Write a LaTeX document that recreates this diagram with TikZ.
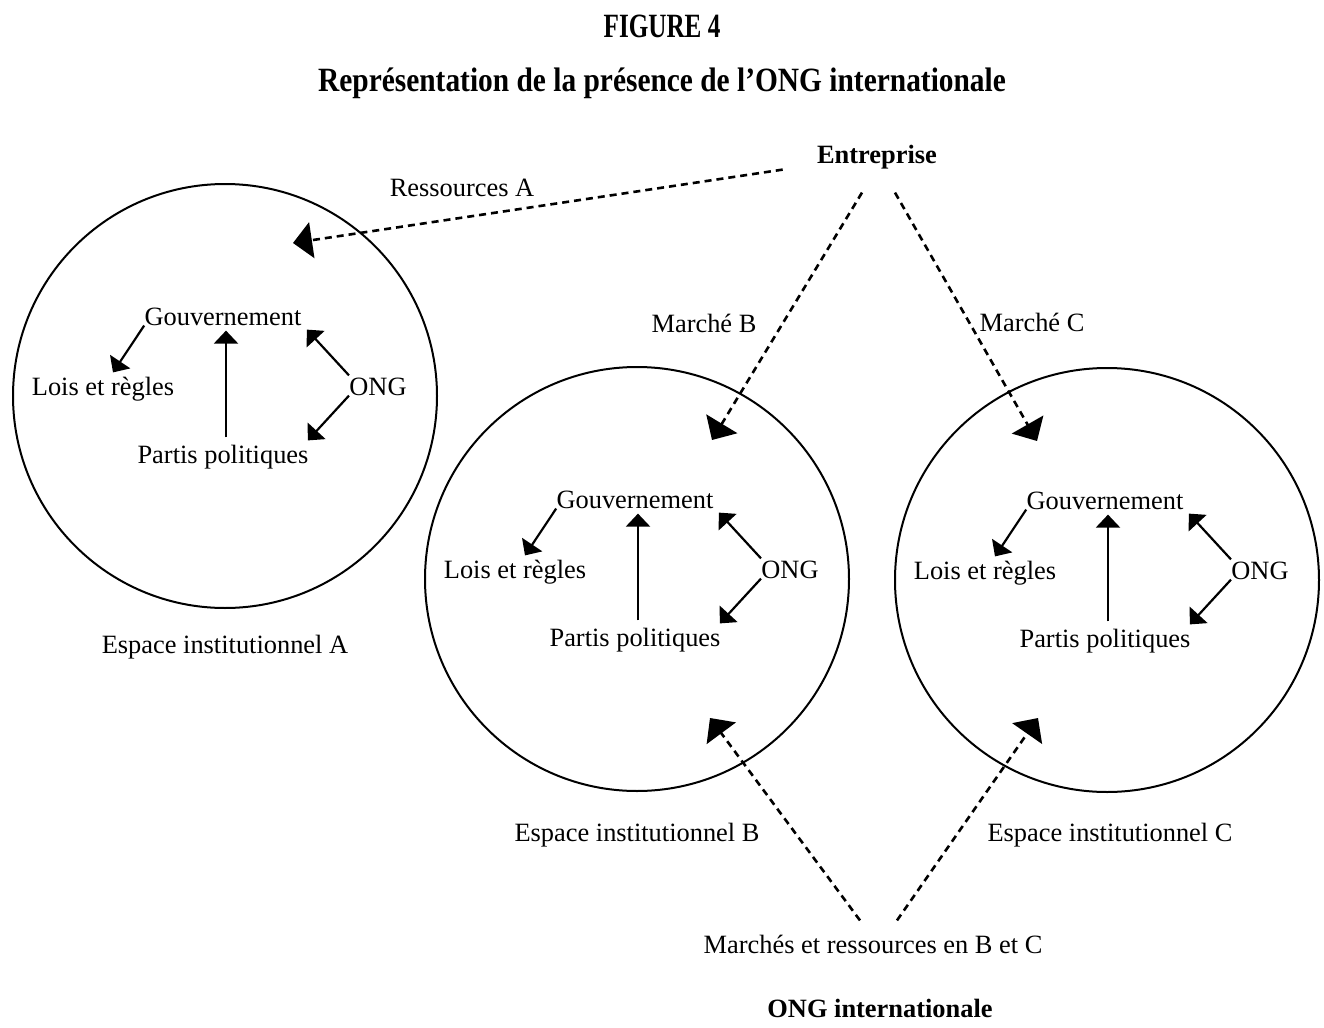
\documentclass[tikz,border=0pt]{standalone}
\usepackage{fontspec}
\setmainfont{Liberation Serif}
\usetikzlibrary{arrows.meta,calc}
\newcommand\clusterNodes[2]{%
  \begin{scope}[shift={#2}]
    \node[lbl] (gov#1) at (-2,-75) {Gouvernement};
    \node[lbl] (lois#1) at (-122,-5) {Lois et règles};
    \node[lbl] (ong#1) at (153,-5) {ONG};
    \node[lbl] (par#1) at (-2,63) {Partis politiques};
  \end{scope}%
  \draw[solidarr] ($(gov#1.south west)+(0,-5)$) -- ($(lois#1.north)+(10,-9)$);
  \draw[solidarr] ($(par#1.north)+(3,-12)$) -- ($(gov#1.south)+(3,0)$);
  \draw[solidarr] ($(ong#1.north west)+(0,-6)$) -- ($(gov#1.south east)+(5,-1)$);
  \draw[solidarr] ($(ong#1.south west)+(0,-5)$) -- ($(par#1.north east)+(-1,-9)$);
}
\begin{document}
\begin{tikzpicture}[x=0.5pt,y=-0.5pt,
  lbl/.style={font=\fontsize{13.2}{15}\selectfont, inner sep=0pt, text height=0.7em, text depth=0.22em},
  blbl/.style={lbl, font=\fontsize{13.2}{15}\selectfont\bfseries},
  ttl/.style={font=\fontsize{17}{19}\selectfont\bfseries, inner sep=0pt, anchor=base},
  ring/.style={circle, draw, line width=1pt, inner sep=0pt, minimum size=212pt},
  solidarr/.style={line width=1.1pt, -{Triangle[length=6.5pt,width=12pt]}},
  dasharr/.style={line width=1.3pt, dash pattern=on 3.5pt off 2.5pt, -{Triangle[length=9.5pt,width=18pt]}},
]
\useasboundingbox (0,0) rectangle (1324,1028);

% titles
\node[ttl] (fig) at (662,38) {\scalebox{0.74}[1]{FIGURE 4}};
\node[ttl] (title) at (662,91) {\scalebox{0.865}[1]{Représentation de la présence de l’ONG internationale}};

% circles
\node[ring] (cA) at (225,396) {};
\node[ring] (cB) at (637,579) {};
\node[ring] (cC) at (1107,580) {};

% inner clusters
\clusterNodes{A}{(225,396)}
\clusterNodes{B}{(637,579)}
\clusterNodes{C}{(1107,580)}

% labels
\node[blbl] (ent) at (877,159) {Entreprise};
\node[lbl] (resA) at (462,192) {Ressources A};
\node[lbl] (mB) at (704,328) {Marché B};
\node[lbl] (mC) at (1032,327) {Marché C};
\node[lbl] (eA) at (225,649) {Espace institutionnel A};
\node[lbl] (eB) at (637,837) {Espace institutionnel B};
\node[lbl] (eC) at (1110,837) {Espace institutionnel C};
\node[lbl] (mar) at (873,949) {Marchés et ressources en B et C};
\node[blbl] (ongi) at (880,1013) {ONG internationale};

% dashed arrow ends
\coordinate (tRA) at (293,243);
\coordinate (tMB) at (712,440);
\coordinate (tMC) at (1037,441);
\coordinate (tBB) at (710,718);
\coordinate (tBC) at (1038,718);

\draw[dasharr] ($(ent.south west)+(-34,1)$) -- (tRA);
\draw[dasharr] ($(ent.south)+(-15,24)$) -- (tMB);
\draw[dasharr] ($(ent.south)+(18,24)$) -- (tMC);
\draw[dasharr] ($(mar.north)+(-13,-19)$) -- (tBB);
\draw[dasharr] ($(mar.north)+(24,-19)$) -- (tBC);
\end{tikzpicture}
\end{document}
